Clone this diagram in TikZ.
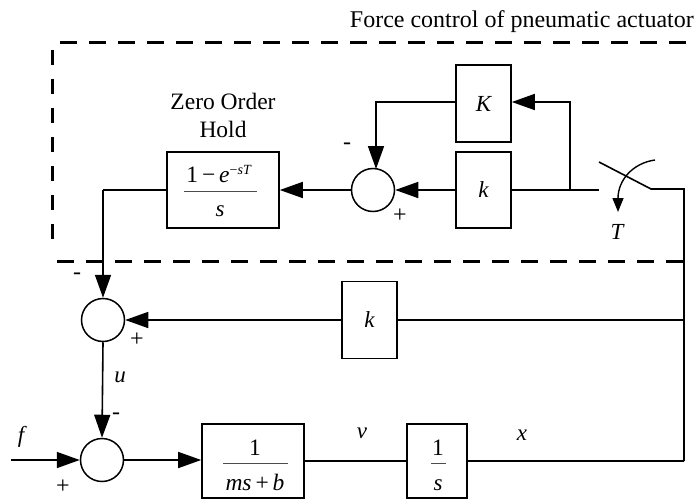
\documentclass[tikz,border=0pt]{standalone}
\usepackage{fontspec}
\setmainfont{Liberation Serif}
\usetikzlibrary{arrows.meta}
\begin{document}
\begin{tikzpicture}[x=1pt,y=-1pt,
  ln/.style={line width=1.6pt},
  blk/.style={draw, line width=1.6pt, inner sep=0pt},
  sumc/.style={circle, draw, line width=1.5pt, minimum size=43pt, inner sep=0pt},
  arr/.style={ln, -{Triangle[length=23pt,width=16pt]}},
  dsh/.style={line width=3pt, dash pattern=on 17pt off 12pt},
  frl/.style={line width=1pt, black!70},
  txt/.style={font=\fontsize{23.5}{27}\selectfont, inner sep=0pt},
  lbl/.style={font=\fontsize{23}{27}\selectfont\itshape, inner sep=0pt},
  sgn/.style={font=\fontsize{24}{27}\selectfont, inner sep=0pt}]
\useasboundingbox (0,0) rectangle (695,500);

% title and dashed frame
\node[txt, font=\fontsize{24}{28}\selectfont, anchor=base east] (title) at (694,28) {Force control of pneumatic actuator};
\coordinate (d1) at (60,43);  \coordinate (d2) at (695,43);
\coordinate (d3) at (52,50);  \coordinate (d4) at (52,252);
\coordinate (d5) at (57,261); \coordinate (d6) at (684,261);
\draw[dsh] (d1) -- (d2);
\draw[dsh, dash pattern=on 15pt off 14pt] (d3) -- (d4);
\draw[dsh] (d5) -- (d6);

% zero order hold
\node[txt, anchor=base] (zo1) at (223,110) {Zero Order};
\node[txt, anchor=base] (zo2) at (223,137) {Hold};
\node[blk, minimum width=112pt, minimum height=76pt] (zoh) at (223,190) {};
\node[txt, anchor=base] (zohn) at (219,182) {1\,−\,\textit{e}\raisebox{8pt}{\fontsize{14}{16}\selectfont −\textit{sT}}};
\node[lbl, anchor=base] (zohd) at (220,216) {s};
\coordinate (zf1) at (184,191); \coordinate (zf2) at (257,191);
\draw[frl] (zf1) -- (zf2);

% inner loop
\node[sumc] (s1) at (373,190) {};
\node[blk, minimum width=55pt, minimum height=76pt, lbl] (kin) at (483.5,190) {k};
\node[blk, minimum width=55pt, minimum height=77pt, lbl] (kK) at (483.5,103.5) {K};
\coordinate (b1) at (570,190);
\coordinate (b2) at (570,102);
\coordinate (k1) at (376,102);
\coordinate (k2) at (376,169);
\coordinate (sw0) at (599,190);
\coordinate (sw1) at (599,162);
\coordinate (sw2) at (651,189);
\coordinate (c1) at (684,189);
\coordinate (c2) at (684,320);
\coordinate (c3) at (684,461);
\draw[arr] (s1.west) -- (s1.west -| zoh.east);
\draw[arr] (kin.west) -- (s1.east);
\draw[ln] (kin.east) -- (sw0);
\draw[arr] (b1) -- (b2) -- (b2 -| kK.east);
\draw[arr] (kK.west |- k1) -- (k1) -- (k2);
\draw[ln] (sw1) -- (sw2) -- (c1) -- (c3);
\coordinate (ca1) at (655,160);
\coordinate (ca2) at (618,212);
\draw[line width=1.4pt, -{Triangle[length=14pt,width=11pt]}] (ca1) .. controls (633,163) and (618,180) .. (ca2);
\node[lbl] (T) at (617,232) {T};
\node[sgn] (m1) at (347,146) {-};
\node[sgn] (p1) at (400,216) {+};

% outer loop
\node[sumc] (s2) at (103,320) {};
\node[blk, minimum width=55pt, minimum height=77pt, lbl] (ko) at (369.5,320) {k};
\coordinate (z1) at (103,190);
\draw[ln] (zoh.west |- z1) -- (z1);
\draw[arr] (z1) -- (s2.north);
\draw[ln] (c2) -- (ko.east);
\draw[arr] (ko.west) -- (s2.east);
\node[sgn] (m2) at (77,276) {-};
\node[sgn] (p2) at (137,340) {+};

% forward path
\node[sumc] (s3) at (102,460) {};
\coordinate (in1) at (11,460);
\draw[arr] (s2.south) -- (s3.north);
\draw[arr] (in1) -- (s3.west);
\node[lbl] (u) at (120,377) {u};
\node[lbl] (f) at (21,437) {f};
\node[sgn] (m3) at (116,416) {-};
\node[sgn] (p3) at (63,487) {+};

\node[blk, minimum width=102pt, minimum height=74pt] (G) at (253,461) {};
\node[txt, anchor=base] (Gn) at (255,455) {1};
\node[txt, anchor=base] (Gd) at (255,490) {\textit{ms}\,+\,\textit{b}};
\coordinate (gf1) at (223,463); \coordinate (gf2) at (288,463);
\draw[frl] (gf1) -- (gf2);
\draw[arr] (s3.east) -- (s3.east -| G.west);

\node[blk, minimum width=60pt, minimum height=74pt] (I) at (437,461) {};
\node[txt, anchor=base] (In) at (438,455) {1};
\node[lbl, anchor=base] (Id) at (438,490) {s};
\coordinate (if1) at (431,463); \coordinate (if2) at (446,463);
\draw[frl] (if1) -- (if2);
\draw[ln] (G.east) -- (I.west);
\draw[ln] (I.east) -- (c3);
\node[lbl] (v) at (362,433) {v};
\node[lbl] (x) at (522,435) {x};
\end{tikzpicture}
\end{document}
